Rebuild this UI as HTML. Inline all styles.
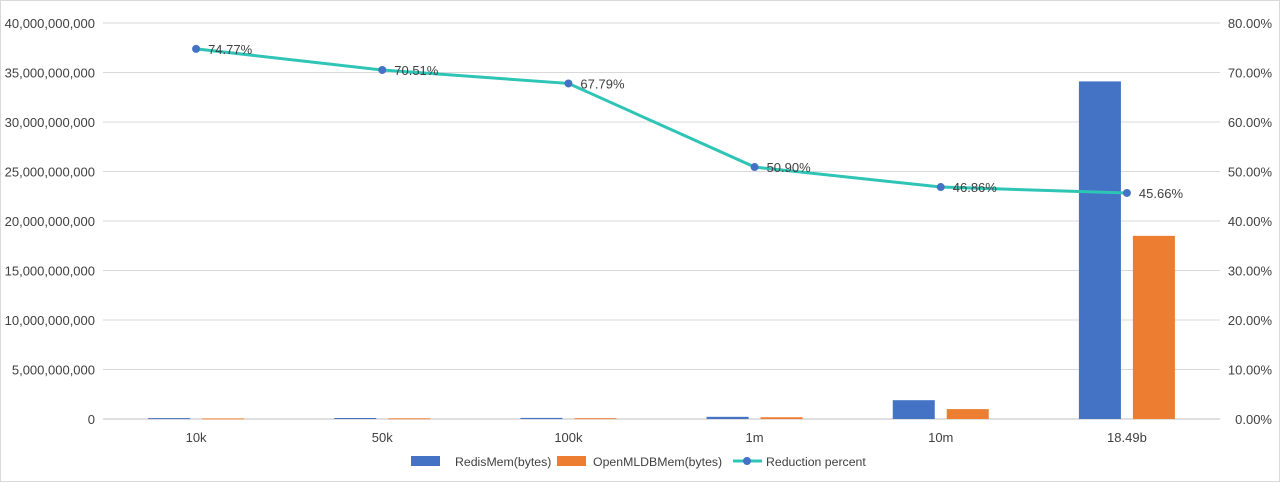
<!DOCTYPE html>
<html><head><meta charset="utf-8"><style>
body{margin:0;background:#fff;}
svg text{font-family:"Liberation Sans",sans-serif;font-size:13px;fill:#404040;}
svg text.lg{font-size:12.3px;}
</style></head><body>
<svg width="1280" height="482" id="c">
<rect x="0.5" y="0.5" width="1279" height="481" fill="#fff" stroke="#d9d9d9"/>
<g id="grid"></g><g id="bars"></g><g id="line"></g><g id="labels"></g>
<g>
<rect x="411" y="456" width="29" height="10" fill="#4472c4"/>
<text class="lg" x="455" y="466">RedisMem(bytes)</text>
<rect x="557" y="456" width="29" height="10" fill="#ed7d31"/>
<text class="lg" x="593" y="466">OpenMLDBMem(bytes)</text>
<line x1="733" y1="461" x2="762" y2="461" stroke="#2ec4b6" stroke-width="3"/>
<circle cx="747" cy="461" r="4" fill="#4472c4"/>
<text class="lg" x="766" y="466">Reduction percent</text>
</g>
</svg>
<script>
const categories=["10k","50k","100k","1m","10m","18.49b"];
const redisMem=[0.09e9,0.1e9,0.11e9,0.22e9,1.9e9,34.1e9];
const openMem=[0.06e9,0.07e9,0.08e9,0.18e9,1.0e9,18.5e9];
const reduction=[74.77,70.51,67.79,50.90,46.86,45.66];
const leftTicks=[0,5e9,10e9,15e9,20e9,25e9,30e9,35e9,40e9];
const rightTicks=[0,10,20,30,40,50,60,70,80];
const NS="http://www.w3.org/2000/svg";
const X0=103,X1=1220,Y0=419,Y1=23;
const band=(X1-X0)/categories.length;
const xc=i=>X0+band*(i+0.5);
const yL=v=>Y0-(v/40e9)*(Y0-Y1);
const yR=v=>Y0-(v/80)*(Y0-Y1);
function mk(tag,attrs,parent,txt){const e=document.createElementNS(NS,tag);for(const k in attrs)e.setAttribute(k,attrs[k]);if(txt!==undefined)e.textContent=txt;document.getElementById(parent).appendChild(e);return e;}
leftTicks.forEach((t,i)=>{
 const y=yL(t);
 const g=mk('line',{x1:X0,x2:X1,y1:y,y2:y,stroke:i==0?'#bfbfbf':'#d9d9d9','stroke-width':1},'grid');
 
 
 const l=mk('text',{x:95,y:y+5,'text-anchor':'end'},'labels',t.toLocaleString('en-US'));
 
 
});
rightTicks.forEach(t=>{
 const l=mk('text',{x:1272,y:yR(t)+5,'text-anchor':'end'},'labels',t.toFixed(2)+'%');
 
 
});
categories.forEach((c,i)=>{
 const cx=xc(i);
 const yb=yL(redisMem[i]);
 const b=mk('rect',{x:cx-48,y:yb,width:42,height:Math.max(1,Y0-yb),fill:'#4472c4'},'bars');
 
 
 const yo=yL(openMem[i]);
 const o=mk('rect',{x:cx+6,y:yo,width:42,height:Math.max(1,Y0-yo),fill:'#ed7d31'},'bars');
 
 
 const l=mk('text',{x:cx,y:442,'text-anchor':'middle'},'labels',c);
 
 
});
const pts=reduction.map((v,i)=>xc(i)+','+yR(v)).join(' ');
const pl=mk('polyline',{points:pts,fill:'none',stroke:'#2ec4b6','stroke-width':3},'line');


reduction.forEach((v,i)=>{
 const p=mk('circle',{cx:xc(i),cy:yR(v),r:4,fill:'#4472c4'},'line');
 
 
 const t=mk('text',{x:xc(i)+12,y:yR(v)+5},'labels',v.toFixed(2)+'%');
 
 
});
</script>
</body></html>
